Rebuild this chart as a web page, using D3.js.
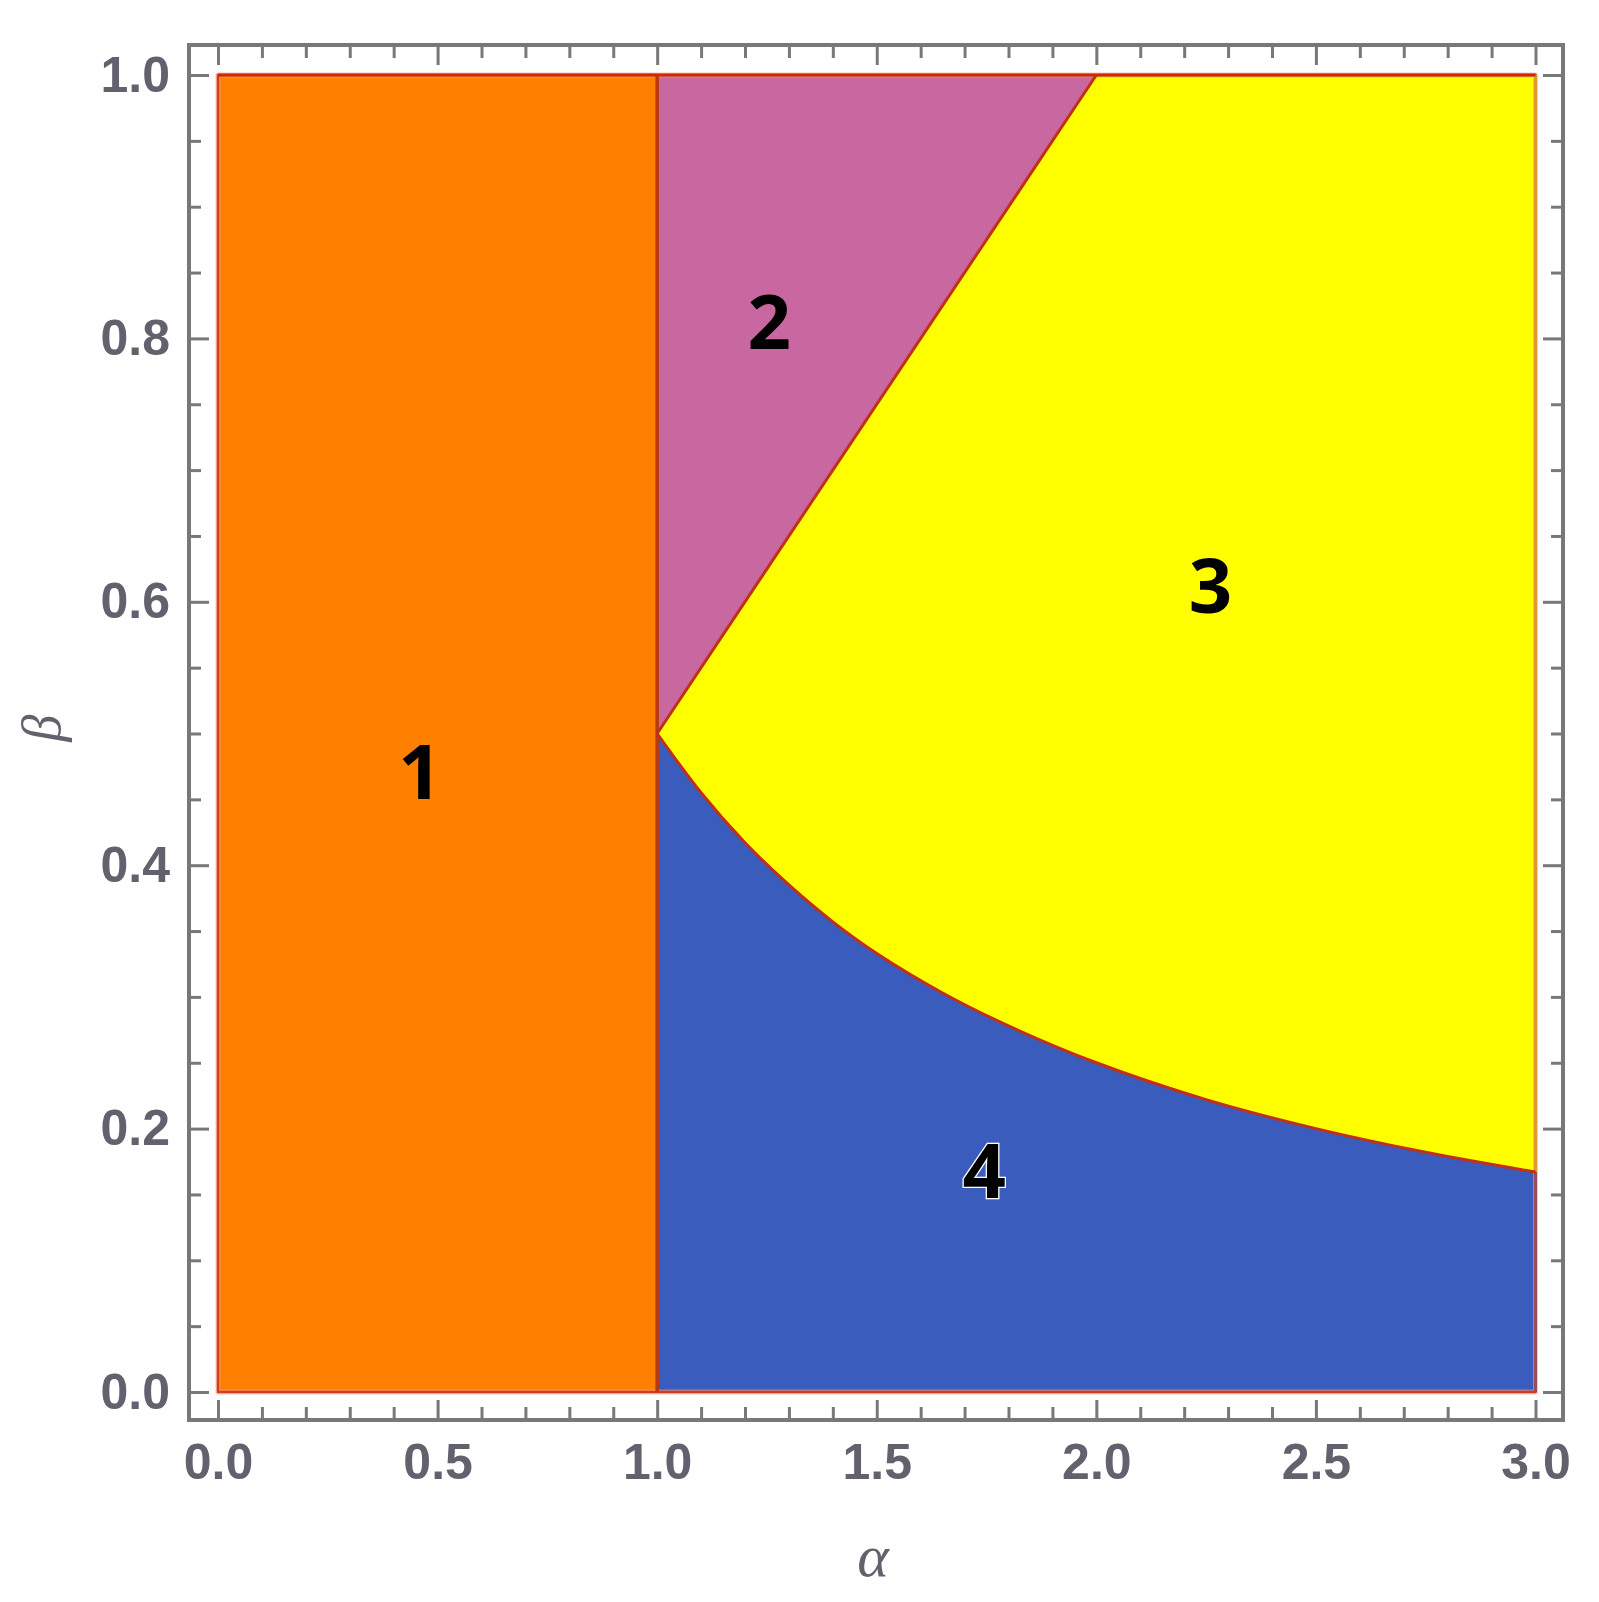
<!DOCTYPE html>
<html>
<head>
<meta charset="utf-8">
<script src="https://cdn.jsdelivr.net/npm/d3@7"></script>
<style>
  body { margin: 0; background: #fff; }
  svg { display: block; }
</style>
</head>
<body>
<div class="chart-container"></div>
<script>
// data
const alphaTicks = [0.0, 0.5, 1.0, 1.5, 2.0, 2.5, 3.0];
const betaTicks = [0.0, 0.2, 0.4, 0.6, 0.8, 1.0];

// region 1 spans alpha 0..1 over the full beta range
const region1Alpha = [0.0, 1.0];
const region1Beta = [0.0, 1.0];

// straight boundary between region 2 and region 3
const lineAlpha = [1.0, 2.0];
const lineBeta = [0.5, 1.0];

// curved boundary between region 3 and region 4
const curveAlpha = [1.0, 1.1, 1.2, 1.3, 1.4, 1.5, 1.65, 1.8, 2.0, 2.25, 2.5, 2.75, 3.0];
const curveBeta = [0.5, 0.455, 0.417, 0.385, 0.357, 0.333, 0.303, 0.278, 0.25, 0.222, 0.20, 0.182, 0.167];

// region labels
const regionNames = ['1', '2', '3', '4'];
const regionAlpha = [0.46, 1.255, 2.26, 1.745];
const regionBeta = [0.471, 0.813, 0.612, 0.168];

// layout
const W = 1599, H = 1602;
const frame = { left: 189, right: 1563, top: 45, bottom: 1420 };

const xScale = d3.scaleLinear().domain([0, 3]).range([218, 1535.5]);
const yScale = d3.scaleLinear().domain([0, 1]).range([1392, 75]);

const svg = d3.select('.chart-container')
  .append('svg')
  .attr('width', W)
  .attr('height', H);

const curvePts = curveAlpha.map((a, i) => [a, curveBeta[i]]);
const linePts = lineAlpha.map((a, i) => [a, lineBeta[i]]);
const smooth = d3.curveCatmullRom.alpha(0.5);

// region 1 (orange)
svg.append('rect')
  .attr('x', xScale(region1Alpha[0]))
  .attr('y', yScale(region1Beta[1]))
  .attr('width', xScale(region1Alpha[1]) - xScale(region1Alpha[0]))
  .attr('height', yScale(region1Beta[0]) - yScale(region1Beta[1]))
  .style('fill', '#ff8000');

// region 3 (yellow): from the curve up to beta = 1
const areaAbove = d3.area()
  .x(d => xScale(d[0]))
  .y0(d => yScale(d[1]))
  .y1(yScale(1))
  .curve(smooth);

svg.append('path')
  .attr('d', areaAbove(curvePts))
  .style('fill', '#ffff00');

// region 4 (blue): below the curve
const areaBelow = d3.area()
  .x(d => xScale(d[0]))
  .y0(yScale(0))
  .y1(d => yScale(d[1]))
  .curve(smooth);

svg.append('path')
  .attr('d', areaBelow(curvePts))
  .style('fill', '#3a5cbd');

// region 2 (pink): triangle left of the straight line
const tri = [[lineAlpha[0], lineBeta[0]], [lineAlpha[1], lineBeta[1]], [lineAlpha[0], lineBeta[1]]];
svg.append('path')
  .attr('d', d3.line().x(d => xScale(d[0])).y(d => yScale(d[1]))(tri) + 'Z')
  .style('fill', '#c867a0');

// boundaries
const boundary = svg.append('g')
  .style('fill', 'none')
  .style('stroke-linejoin', 'round');

// soft halo round the plotted area
boundary.append('rect')
  .attr('x', xScale(0))
  .attr('y', yScale(1))
  .attr('width', xScale(3) - xScale(0))
  .attr('height', yScale(0) - yScale(1))
  .style('stroke', '#f0a090')
  .style('stroke-opacity', 0.6)
  .style('stroke-width', 5);

boundary.append('rect')
  .attr('x', xScale(0))
  .attr('y', yScale(1))
  .attr('width', xScale(3) - xScale(0))
  .attr('height', yScale(0) - yScale(1))
  .style('stroke', '#d0401a')
  .style('stroke-width', 2.5);

boundary.append('line')
  .attr('x1', xScale(3)).attr('x2', xScale(3))
  .attr('y1', yScale(1)).attr('y2', yScale(curveBeta[curveBeta.length - 1]))
  .style('stroke', '#e09a30')
  .style('stroke-width', 3);

boundary.append('line')
  .attr('x1', xScale(3)).attr('x2', xScale(3))
  .attr('y1', yScale(curveBeta[curveBeta.length - 1])).attr('y2', yScale(0))
  .style('stroke', '#9a4a5a')
  .style('stroke-width', 3);

boundary.append('line')
  .attr('x1', xScale(1)).attr('x2', xScale(1))
  .attr('y1', yScale(0)).attr('y2', yScale(1))
  .style('stroke', '#b83a10')
  .style('stroke-width', 3.5);

boundary.append('path')
  .attr('d', d3.line().x(d => xScale(d[0])).y(d => yScale(d[1])).curve(smooth)(curvePts))
  .style('stroke', '#c0301a')
  .style('stroke-width', 3);

boundary.append('path')
  .attr('d', d3.line().x(d => xScale(d[0])).y(d => yScale(d[1]))(linePts))
  .style('stroke', '#c0301a')
  .style('stroke-width', 3);

// top edge is a bright red line
boundary.append('line')
  .attr('x1', xScale(0)).attr('x2', xScale(3))
  .attr('y1', yScale(1)).attr('y2', yScale(1))
  .style('stroke', '#cc2a00')
  .style('stroke-width', 3);

// region labels
svg.append('g')
  .selectAll('text')
  .data(regionNames)
  .enter()
  .append('text')
  .attr('x', (d, i) => xScale(regionAlpha[i]))
  .attr('y', (d, i) => yScale(regionBeta[i]))
  .attr('dy', '0.36em')
  .attr('text-anchor', 'middle')
  .style('font-family', '"Open Sans", "Liberation Sans", sans-serif')
  .style('font-weight', 'bold')
  .style('font-size', '76px')
  .style('fill', '#000')
  .style('stroke', (d, i) => i === 3 ? '#fff' : 'none')
  .style('stroke-width', (d, i) => i === 3 ? 2.5 : 0)
  .style('paint-order', 'stroke')
  .text(d => d);

// axes
const tickColor = '#787878';
const labelColor = '#62626f';

function styleAxis(g) {
  g.select('.domain').remove();
  g.selectAll('.tick line').style('stroke', tickColor).style('stroke-width', 3);
  g.selectAll('.tick text')
    .style('font-family', '"Liberation Sans", Arial, sans-serif')
    .style('font-weight', 'bold')
    .style('font-size', '50px')
    .style('fill', labelColor);
}

const fmt = d3.format('.1f');
const alphaMinor = d3.range(0, 3.0001, 0.1).map(d => +d.toFixed(1)).filter(d => !alphaTicks.includes(d));
const betaMinor = d3.range(0, 1.0001, 0.05).map(d => +d.toFixed(2)).filter(d => !betaTicks.includes(d));

// bottom
svg.append('g')
  .attr('transform', `translate(0, ${frame.bottom})`)
  .call(d3.axisBottom(xScale).tickValues(alphaTicks).tickFormat(fmt).tickSizeInner(-20).tickSizeOuter(0).tickPadding(23))
  .call(styleAxis);
svg.append('g')
  .attr('transform', `translate(0, ${frame.bottom})`)
  .call(d3.axisBottom(xScale).tickValues(alphaMinor).tickFormat('').tickSizeInner(-13).tickSizeOuter(0))
  .call(styleAxis);

// top
svg.append('g')
  .attr('transform', `translate(0, ${frame.top})`)
  .call(d3.axisTop(xScale).tickValues(alphaTicks).tickFormat('').tickSizeInner(-20).tickSizeOuter(0))
  .call(styleAxis);
svg.append('g')
  .attr('transform', `translate(0, ${frame.top})`)
  .call(d3.axisTop(xScale).tickValues(alphaMinor).tickFormat('').tickSizeInner(-13).tickSizeOuter(0))
  .call(styleAxis);

// left
svg.append('g')
  .attr('transform', `translate(${frame.left}, 0)`)
  .call(d3.axisLeft(yScale).tickValues(betaTicks).tickFormat(fmt).tickSizeInner(-20).tickSizeOuter(0).tickPadding(19))
  .call(styleAxis);
svg.append('g')
  .attr('transform', `translate(${frame.left}, 0)`)
  .call(d3.axisLeft(yScale).tickValues(betaMinor).tickFormat('').tickSizeInner(-12).tickSizeOuter(0))
  .call(styleAxis);

// right
svg.append('g')
  .attr('transform', `translate(${frame.right}, 0)`)
  .call(d3.axisRight(yScale).tickValues(betaTicks).tickFormat('').tickSizeInner(-20).tickSizeOuter(0))
  .call(styleAxis);
svg.append('g')
  .attr('transform', `translate(${frame.right}, 0)`)
  .call(d3.axisRight(yScale).tickValues(betaMinor).tickFormat('').tickSizeInner(-12).tickSizeOuter(0))
  .call(styleAxis);

// frame
svg.append('rect')
  .attr('x', frame.left)
  .attr('y', frame.top)
  .attr('width', frame.right - frame.left)
  .attr('height', frame.bottom - frame.top)
  .style('fill', 'none')
  .style('stroke', tickColor)
  .style('stroke-width', 4);

// axis titles
svg.append('text')
  .attr('x', 873)
  .attr('y', 1576)
  .attr('text-anchor', 'middle')
  .style('font-family', '"Liberation Serif", "DejaVu Serif", serif')
  .style('font-style', 'italic')
  .style('font-size', '60px')
  .style('fill', labelColor)
  .text('α');

svg.append('text')
  .attr('transform', 'translate(60, 728) rotate(-90)')
  .attr('text-anchor', 'middle')
  .style('font-family', '"Liberation Serif", "DejaVu Serif", serif')
  .style('font-style', 'italic')
  .style('font-size', '54px')
  .style('fill', labelColor)
  .text('β');
</script>
</body>
</html>
